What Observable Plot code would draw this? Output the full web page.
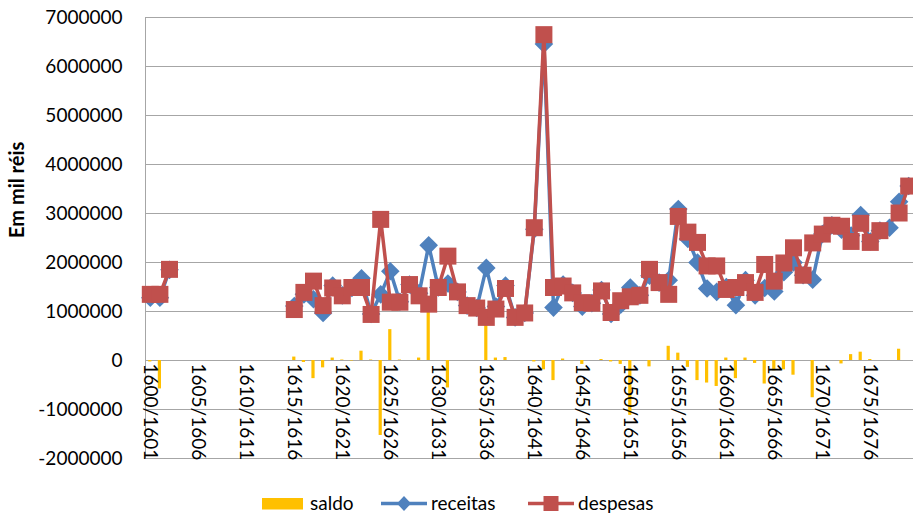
<!DOCTYPE html>
<html>
<head>
<meta charset="utf-8">
<script src="https://cdn.jsdelivr.net/npm/d3@7"></script>
<script src="https://cdn.jsdelivr.net/npm/@observablehq/plot@0.6"></script>
<style>
  html, body { margin: 0; padding: 0; background: #fff; overflow: hidden; }
  #chart svg { display: block; }
  #legend svg { display: block; }
</style>
</head>
<body>
<div id="chart"></div>
<div id="legend"></div>
<script>
const categories = [
  "1600/1601","1601/1602","1602/1603","1603/1604","1604/1605","1605/1606","1606/1607","1607/1608","1608/1609","1609/1610",
  "1610/1611","1611/1612","1612/1613","1613/1614","1614/1615","1615/1616","1616/1617","1617/1618","1618/1619","1619/1620",
  "1620/1621","1621/1622","1622/1623","1623/1624","1624/1625","1625/1626","1626/1627","1627/1628","1628/1629","1629/1630",
  "1630/1631","1631/1632","1632/1633","1633/1634","1634/1635","1635/1636","1636/1637","1637/1638","1638/1639","1639/1640",
  "1640/1641","1641/1642","1642/1643","1643/1644","1644/1645","1645/1646","1646/1647","1647/1648","1648/1649","1649/1650",
  "1650/1651","1651/1652","1652/1653","1653/1654","1654/1655","1655/1656","1656/1657","1657/1658","1658/1659","1659/1660",
  "1660/1661","1661/1662","1662/1663","1663/1664","1664/1665","1665/1666","1666/1667","1667/1668","1668/1669","1669/1670",
  "1670/1671","1671/1672","1672/1673","1673/1674","1674/1675","1675/1676","1676/1677","1677/1678","1678/1679","1679/1680"
];

const receitas = [
  1280000, 1280000, 1850000, null, null, null, null, null, null, null,
  null, null, null, null, null, 1110000, 1350000, 1250000, 970000, 1530000,
  1330000, 1480000, 1680000, 950000, 1350000, 1820000, 1200000, 1550000, 1370000, 2350000,
  1490000, 1570000, 1400000, 1120000, 1070000, 1890000, 1100000, 1530000, 880000, 970000,
  2680000, 6460000, 1080000, 1550000, 1380000, 1100000, 1170000, 1440000, 950000, 1140000,
  1490000, 1330000, 1730000, 1590000, 1640000, 3090000, 2480000, 2000000, 1470000, 1400000,
  1500000, 1130000, 1640000, 1330000, 1480000, 1410000, 1800000, 2000000, 1740000, 1650000,
  2580000, 2760000, 2670000, 2550000, 2970000, 2430000, 2650000, 2710000, 3240000, 3560000
];

const despesas = [
  1350000, 1350000, 1860000, null, null, null, null, null, null, null,
  null, null, null, null, null, 1040000, 1390000, 1620000, 1120000, 1480000,
  1320000, 1490000, 1490000, 940000, 2880000, 1190000, 1190000, 1550000, 1320000, 1150000,
  1490000, 2130000, 1400000, 1120000, 1070000, 880000, 1050000, 1470000, 880000, 970000,
  2710000, 6650000, 1490000, 1520000, 1380000, 1180000, 1170000, 1420000, 980000, 1220000,
  1300000, 1330000, 1860000, 1590000, 1350000, 2940000, 2620000, 2410000, 1930000, 1930000,
  1450000, 1490000, 1590000, 1390000, 1960000, 1620000, 1990000, 2300000, 1740000, 2400000,
  2580000, 2760000, 2740000, 2430000, 2800000, 2410000, 2650000, null, 3010000, 3560000
];

const saldo = [
  -30000, -580000, 0, null, null, null, null, null, null, null,
  null, null, null, null, null, 70000, -40000, -370000, -150000, 50000,
  10000, -10000, 190000, 10000, -1530000, 630000, 10000, 0, 50000, 1200000,
  0, -560000, 0, 0, 0, 1010000, 50000, 60000, 0, 0,
  -30000, -190000, -410000, 30000, 0, -80000, 0, 20000, -30000, -80000,
  -1120000, 0, -130000, 0, 290000, 150000, -140000, -410000, -460000, -530000,
  50000, -370000, 50000, -60000, -480000, -210000, -190000, -300000, 0, -760000,
  0, 0, -70000, 120000, 170000, 20000, 0, null, 230000, 0
];

const yTicks = [-2000000, -1000000, 0, 1000000, 2000000, 3000000, 4000000, 5000000, 6000000, 7000000];
const xTickLabels = ["1600/1601","1605/1606","1610/1611","1615/1616","1620/1621","1625/1626","1630/1631","1635/1636","1640/1641","1645/1646","1650/1651","1655/1656","1660/1661","1665/1666","1670/1671","1675/1676"];

const seriesNames = ["saldo", "receitas", "despesas"];
const colors = {saldo: "#FFC000", receitas: "#4F81BD", despesas: "#C0504D"};

const rows = categories.map((c, i) => ({c, r: receitas[i], d: despesas[i], s: saldo[i]}));

const W = 913, H = 470, ML = 145, MR = 0, MT = 17, MB = 12;
const bw = (W - ML - MR) / categories.length;

const squareSym = { draw(ctx) { const h = 8.5; ctx.moveTo(-h, -h); ctx.lineTo(h, -h); ctx.lineTo(h, h); ctx.lineTo(-h, h); ctx.closePath(); } };
const diamondSym = { draw(ctx) { const h = 9.3; ctx.moveTo(0, -h); ctx.lineTo(h, 0); ctx.lineTo(0, h); ctx.lineTo(-h, 0); ctx.closePath(); } };

const chart = Plot.plot({
  width: W, height: H,
  marginLeft: ML, marginRight: MR, marginTop: MT, marginBottom: MB,
  style: {fontFamily: "Lato, 'Open Sans', sans-serif", fontSize: "19px", background: "#fff", color: "#000"},
  x: {type: "band", domain: categories, padding: 0, axis: null},
  y: {domain: [yTicks[0], yTicks[yTicks.length - 1]], axis: null},
  marks: [
    Plot.ruleY(yTicks, {stroke: "#a6a6a6", strokeWidth: 1}),
    Plot.ruleX([categories[0]], {y1: yTicks[0], y2: yTicks[yTicks.length - 1], dx: -bw / 2, stroke: "#a6a6a6", strokeWidth: 1}),
    Plot.barY(rows, {x: "c", y: "s", fill: colors.saldo, insetLeft: 3.2, insetRight: 3.2}),
    Plot.line(rows, {x: "c", y: "r", stroke: colors.receitas, strokeWidth: 3.5, strokeLinejoin: "round", strokeLinecap: "round"}),
    Plot.dot(rows, {x: "c", y: "r", symbol: diamondSym, fill: colors.receitas, stroke: "none", r: 5}),
    Plot.line(rows, {x: "c", y: "d", stroke: colors.despesas, strokeWidth: 3.5, strokeLinejoin: "round", strokeLinecap: "round"}),
    Plot.dot(rows, {x: "c", y: "d", symbol: squareSym, fill: colors.despesas, stroke: "none", r: 5}),
    Plot.text(xTickLabels, {x: d => d, y: () => 0, text: d => d, rotate: 90, textAnchor: "start", lineAnchor: "middle", dy: 3, fontSize: 19, fill: "#000"}),
    Plot.text(yTicks, {frameAnchor: "left", y: d => d, text: d => String(d), textAnchor: "end", dx: -23, fontSize: 19, fill: "#000"}),
    Plot.text(["Em mil réis"], {frameAnchor: "left", text: d => d, rotate: -90, dx: -128, fontSize: 20, fontWeight: "bold", fill: "#000"})
  ]
});
document.getElementById("chart").appendChild(chart);

// Legend below the chart
const lg = d3.select("#legend").append("svg").attr("width", W).attr("height", 43)
  .style("font-family", "Lato, 'Open Sans', sans-serif").style("font-size", "19px");
const ly = 33.5, base = 40;
lg.append("rect").attr("x", 262).attr("y", 28).attr("width", 41).attr("height", 11.5).attr("fill", colors.saldo);
lg.append("text").attr("x", 310).attr("y", base).text(seriesNames[0]).attr("fill", "#000");
lg.append("line").attr("x1", 381).attr("x2", 427).attr("y1", ly).attr("y2", ly).attr("stroke", colors.receitas).attr("stroke-width", 3.5);
lg.append("path").attr("d", `M404,${ly-7.5}L411,${ly}L404,${ly+7.5}L397,${ly}Z`).attr("fill", colors.receitas);
lg.append("text").attr("x", 431).attr("y", base).text(seriesNames[1]).attr("fill", "#000");
lg.append("line").attr("x1", 528).attr("x2", 574).attr("y1", ly).attr("y2", ly).attr("stroke", colors.despesas).attr("stroke-width", 3.5);
lg.append("rect").attr("x", 543.5).attr("y", ly - 7.5).attr("width", 15).attr("height", 15).attr("fill", colors.despesas);
lg.append("text").attr("x", 578).attr("y", base).text(seriesNames[2]).attr("fill", "#000");
</script>
</body>
</html>
